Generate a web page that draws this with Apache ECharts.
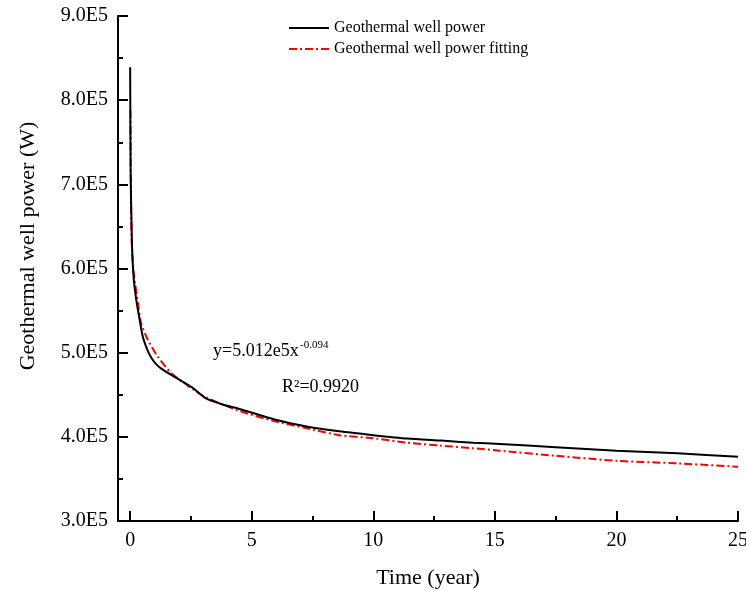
<!DOCTYPE html>
<html>
<head>
<meta charset="utf-8">
<script src="https://cdn.jsdelivr.net/npm/echarts@6/dist/echarts.min.js"></script>
<style>html,body{margin:0;padding:0;background:#fff}#c{width:746px;height:590px}</style>
</head>
<body>
<div id="c"></div>
<script>
// Measured curve (years, power in units of 1E5 W)
const powerYears = [0, 0.02, 0.07, 0.14, 0.25, 0.39, 0.52, 0.7, 0.87, 1.05, 1.28, 1.69, 2.24, 2.58, 3.1, 3.8, 4.5, 5.9, 7.3, 8.6, 10, 11.4, 12.8, 14.1, 15.2, 17.5, 20, 22.5, 25];
const powerValues = [8.39, 7.15, 6.34, 5.90, 5.63, 5.39, 5.19, 5.04, 4.94, 4.87, 4.81, 4.735, 4.64, 4.58, 4.46, 4.385, 4.33, 4.21, 4.12, 4.065, 4.02, 3.98, 3.955, 3.93, 3.915, 3.876, 3.836, 3.804, 3.764];
// Fitted curve
const fitYears = [0.01, 0.03, 0.07, 0.15, 0.32, 0.45, 0.73, 1.14, 1.69, 2.24, 2.58, 3.1, 4.5, 5.9, 7.3, 8.6, 10, 11.4, 12.8, 14.1, 15.2, 17.5, 20, 22.5, 25];
const fitValues = [7.88, 6.9, 6.25, 5.94, 5.59, 5.35, 5.15, 4.95, 4.755, 4.636, 4.565, 4.47, 4.307, 4.188, 4.10, 4.02, 3.983, 3.931, 3.895, 3.864, 3.836, 3.775, 3.715, 3.685, 3.645];
// Tick labels
const xMajorTicks = [0, 5, 10, 15, 20, 25];
const xMinorTicks = [2.5, 7.5, 12.5, 17.5, 22.5];
const seriesNames = ['Geothermal well power', 'Geothermal well power fitting'];
const xTitle = 'Time (year)';
const yTitle = 'Geothermal well power (W)';
const fitEquation = 'y=5.012e5x';
const fitExponent = '-0.094';
const fitR2 = 'R\u00B2=0.9920';

const SCALE = 1e5;
const FONT = '"Liberation Serif", "Times New Roman", serif';
const pair = (xs, ys) => xs.map((x, i) => [x, ys[i] * SCALE]);

const chart = echarts.init(document.getElementById('c'));
chart.setOption({
  animation: false,
  backgroundColor: '#fff',
  textStyle: { fontFamily: FONT, color: '#000' },
  grid: { left: 118, right: 8, top: 16, bottom: 69, containLabel: false, outerBoundsMode: 'none' },
  legend: {
    orient: 'vertical', left: 288, top: 20, padding: 0, itemWidth: 40, itemHeight: 14, itemGap: 5,
    itemStyle: { opacity: 0 },
    textStyle: { fontFamily: FONT, fontSize: 16, color: '#000' },
    data: seriesNames
  },
  xAxis: [{
    type: 'value', min: -0.5, max: 25,
    name: xTitle, nameLocation: 'middle', nameGap: 46,
    nameTextStyle: { fontFamily: FONT, fontSize: 22, color: '#000' },
    axisLine: { show: true, onZero: false, lineStyle: { color: '#000', width: 2 } },
    axisTick: { show: true, inside: true, length: 10, customValues: xMajorTicks, lineStyle: { color: '#000', width: 2 } },
    axisLabel: { customValues: xMajorTicks, margin: 10, fontFamily: FONT, fontSize: 20, color: '#000' },
    splitLine: { show: false }
  }, {
    type: 'value', min: -0.5, max: 25, position: 'bottom',
    axisLine: { show: false, onZero: false },
    axisTick: { show: true, inside: true, length: 5, customValues: xMinorTicks, lineStyle: { color: '#000', width: 2 } },
    axisLabel: { show: false },
    splitLine: { show: false }
  }],
  yAxis: {
    type: 'value', min: 3e5, max: 9e5, interval: 1e5,
    axisLine: { show: true, onZero: false, lineStyle: { color: '#000', width: 2 } },
    axisTick: { show: true, inside: true, length: 10, lineStyle: { color: '#000', width: 2 } },
    minorTick: { show: true, splitNumber: 2, length: 5, lineStyle: { color: '#000', width: 2 } },
    axisLabel: { margin: 10, fontFamily: FONT, fontSize: 20, color: '#000',
      formatter: v => (v / SCALE).toFixed(1) + 'E5' },
    splitLine: { show: false }, minorSplitLine: { show: false }
  },
  series: [{
    name: seriesNames[0], type: 'line', xAxisIndex: 0, symbol: 'none', smooth: 0.2,
    data: pair(powerYears, powerValues),
    lineStyle: { color: '#000', width: 2 }, itemStyle: { color: '#000' }, z: 3
  }, {
    name: seriesNames[1], type: 'line', xAxisIndex: 0, symbol: 'none', smooth: 0.2,
    data: pair(fitYears, fitValues),
    lineStyle: { color: '#ff0000', width: 2, type: [8, 3, 2, 3] }, itemStyle: { color: '#ff0000' }, z: 2
  }],
  graphic: [
    { type: 'text', x: 28, y: 246, rotation: Math.PI / 2,
      style: { text: yTitle, font: '22px ' + FONT, fill: '#000', align: 'center', verticalAlign: 'middle' } },
    { type: 'text', left: 213, top: 342, style: { text: fitEquation, font: '18px ' + FONT, fill: '#000' } },
    { type: 'text', left: 300, top: 340, style: { text: fitExponent, font: '11px ' + FONT, fill: '#000' } },
    { type: 'text', left: 282, top: 378, style: { text: fitR2, font: '18px ' + FONT, fill: '#000' } }
  ]
});
</script>
</body>
</html>
